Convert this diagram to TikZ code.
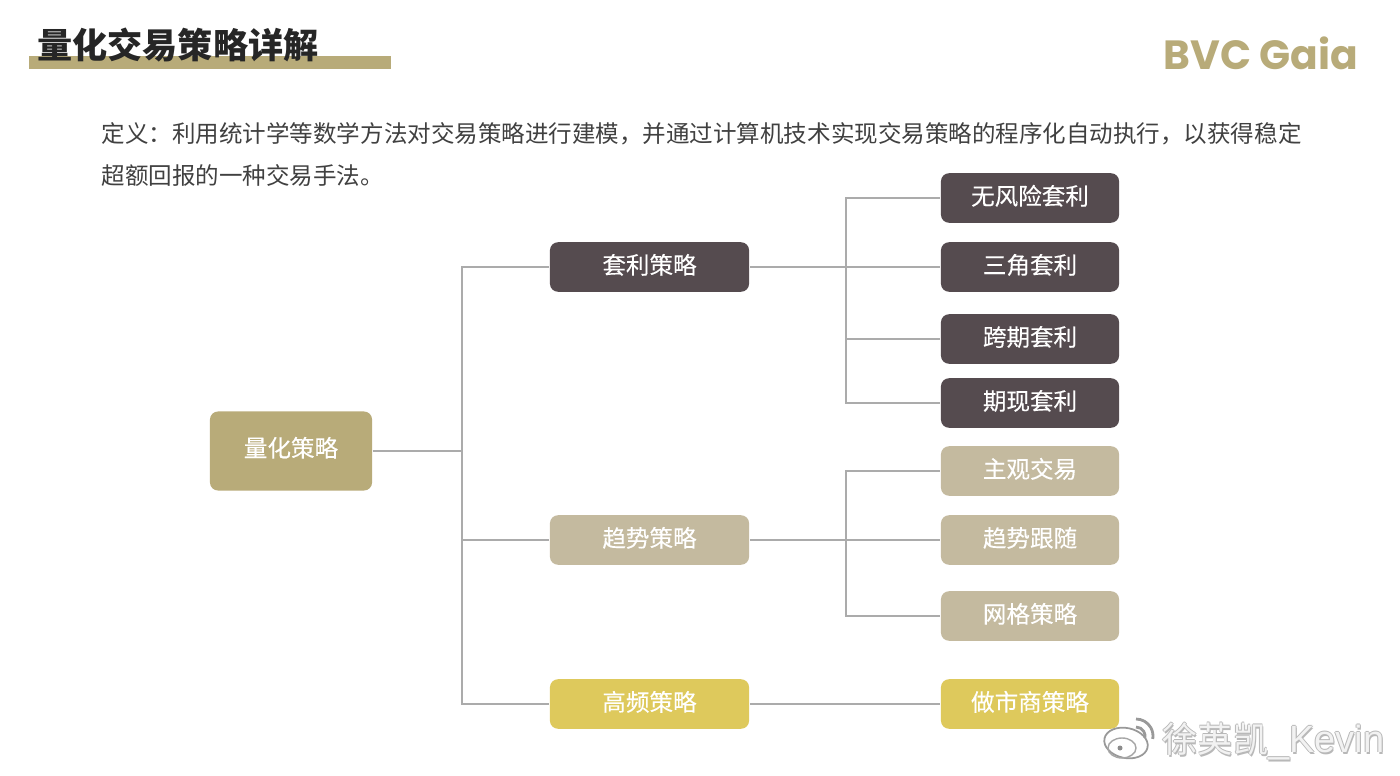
\documentclass[tikz,border=0pt]{standalone}
\usepackage{fontspec}
\setmainfont{Noto Sans CJK SC}
\newfontfamily\logofont{Poppins}
\newfontfamily\boxfont[FakeBold=0.25]{Noto Sans CJK SC}
\newfontfamily\latinmark{Liberation Sans}
\definecolor{goldbox}{HTML}{B8AB79}
\definecolor{darkbox}{HTML}{554B4F}
\definecolor{tanbox}{HTML}{C4BA9F}
\definecolor{yellowbox}{HTML}{DEC95C}
\definecolor{linkgray}{HTML}{ABABAB}
\newcommand{\marktext}{徐英凯{\latinmark\fontsize{10.8pt}{12pt}\selectfont\_Kevin}}
\tikzset{
  box/.style={rounded corners=0.08cm,inner sep=0pt,text=white,text height=5.9pt,text depth=2pt,font=\fontsize{6.7pt}{8pt}\boxfont},
  midbox/.style={box,minimum width=1.99cm,minimum height=0.495cm},
  leafbox/.style={box,minimum width=1.78cm,minimum height=0.495cm},
  link/.style={draw=linkgray,line width=0.6pt},
  markstyle/.style={anchor=west,inner sep=0pt,font=\fontsize{10pt}{11pt}\selectfont}
}
\begin{document}
\begin{tikzpicture}[x=0.01cm,y=-0.01cm]
\useasboundingbox (0,0) rectangle (1400,776);
\fill[goldbox] (29,56) rectangle (391,69);
\node[anchor=west,text=black!85,font=\fontsize{10pt}{12pt}\selectfont\bfseries,inner sep=0pt] (title) at (36.5,45) {量化交易策略详解};
\node[anchor=east,text=goldbox,font=\fontsize{11.6pt}{13pt}\logofont\bfseries,inner sep=0pt] (logo) at (1359,53) {BVC Gaia};
\node[anchor=north west,align=left,inner sep=0pt,text=black!75,font=\fontsize{6.69pt}{11.95pt}\selectfont] (define) at (101,122) {定义：利用统计学等数学方法对交易策略进行建模，并通过计算机技术实现交易策略的程序化自动执行，以获得稳定\\超额回报的一种交易手法。};

\node[box,fill=goldbox,minimum width=1.62cm,minimum height=0.79cm,text depth=2.6pt] (root) at (291,451) {量化策略};

\node[midbox,fill=darkbox] (arb) at (649.5,267) {套利策略};
\node[midbox,fill=tanbox] (trend) at (649.5,540) {趋势策略};
\node[midbox,fill=yellowbox] (hft) at (649.5,704) {高频策略};

\node[leafbox,fill=darkbox] (riskfree) at (1030,198) {无风险套利};
\node[leafbox,fill=darkbox] (triangle) at (1030,267) {三角套利};
\node[leafbox,fill=darkbox] (calendar) at (1030,339) {跨期套利};
\node[leafbox,fill=darkbox] (spot) at (1030,403) {期现套利};
\node[leafbox,fill=tanbox] (manual) at (1030,471) {主观交易};
\node[leafbox,fill=tanbox] (follow) at (1030,540) {趋势跟随};
\node[leafbox,fill=tanbox] (grid) at (1030,616) {网格策略};
\node[leafbox,fill=yellowbox] (maker) at (1030,704) {做市商策略};

\coordinate (rootbus) at (462,451);
\coordinate (arbbus) at (846,267);
\coordinate (trendbus) at (846,540);

\draw[link] (root.east) -- (rootbus);
\draw[link] (rootbus) |- (arb.west);
\draw[link] (rootbus) |- (trend.west);
\draw[link] (rootbus) |- (hft.west);

\draw[link] (arb.east) -- (triangle.west);
\draw[link] (arbbus) |- (riskfree.west);
\draw[link] (arbbus) |- (calendar.west);
\draw[link] (arbbus) |- (spot.west);

\draw[link] (trend.east) -- (follow.west);
\draw[link] (trendbus) |- (manual.west);
\draw[link] (trendbus) |- (grid.west);

\draw[link] (hft.east) -- (maker.west);

% watermark
\foreach \dx/\dy in {-0.8/0,0.8/0,0/-0.8,0/0.8,1/2}
  \node[markstyle,text=black!28] (shade\dx\dy) at (1162+\dx,741+\dy) {\marktext};
\node[markstyle,text=black!5] (mark) at (1162,741) {\marktext};
\draw[black!40,fill=white,line width=0.5pt,rotate around={-12:(1126,743)}] (1126,743) ellipse (22 and 15);
\draw[black!35,line width=0.4pt] (1122,748) ellipse (14 and 10);
\fill[black!45] (1120,748) circle (2.5);
\draw[black!40,line width=0.8pt] (1136,727) arc (-90:10:9);
\draw[black!40,line width=0.8pt] (1136,719) arc (-90:10:17);
\end{tikzpicture}
\end{document}
